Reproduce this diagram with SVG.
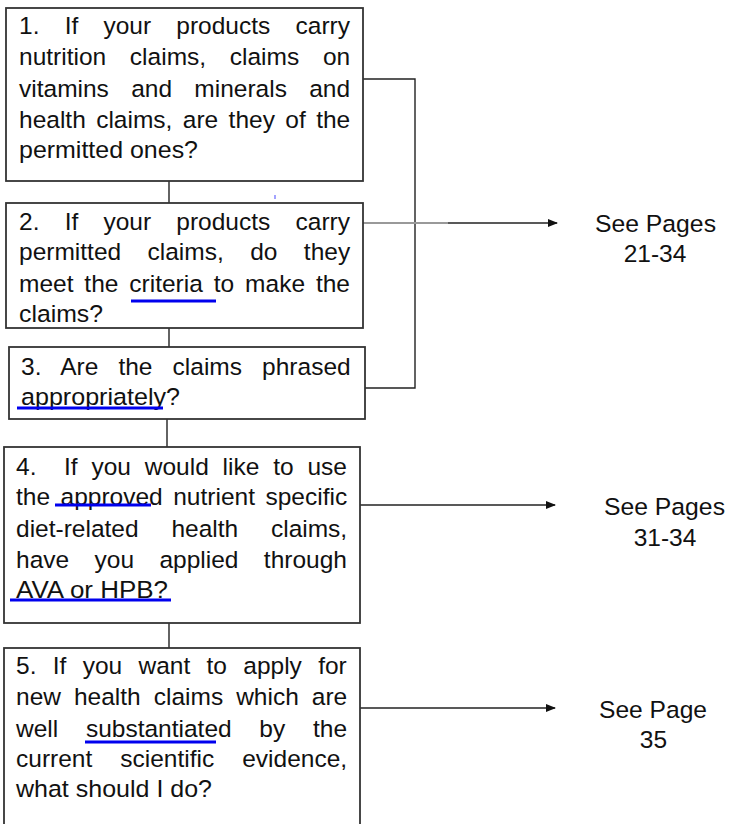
<svg xmlns="http://www.w3.org/2000/svg" width="729" height="824" viewBox="0 0 729 824">
<defs>
<style>
.box{fill:#fff;stroke:#333;stroke-width:1.8}
.t{font-family:"Liberation Sans",Arial,sans-serif;font-size:24.5px;fill:#111}
.c{stroke:#222;stroke-width:1.4;fill:none}
.g{stroke:#999;stroke-width:2;fill:none}
.u{stroke:#0000ee;stroke-width:3}
.r{text-anchor:middle}
</style>
<marker id="ah" markerWidth="10" markerHeight="8" refX="9" refY="4" orient="auto" markerUnits="userSpaceOnUse">
<path d="M0,0 L10,4 L0,8 z" fill="#111"/>
</marker>
</defs>
<rect width="729" height="824" fill="#fff"/>
<g id="connectors">
<line class="c" x1="169" y1="181" x2="169" y2="203"/>
<line class="c" x1="169" y1="328" x2="169" y2="347"/>
<line class="c" x1="167" y1="419" x2="167" y2="447"/>
<line class="c" x1="169" y1="623" x2="169" y2="648"/>
<polyline class="c" points="363,79 415,79 415,388 365,388"/>
<line class="g" x1="363" y1="223" x2="448" y2="223"/>
<line class="c" x1="448" y1="223" x2="557" y2="223" marker-end="url(#ah)"/>
<line class="c" x1="360" y1="505" x2="555" y2="505" marker-end="url(#ah)"/>
<line class="c" x1="360" y1="708" x2="555" y2="708" stroke="#555" stroke-width="1" marker-end="url(#ah)"/>
<line x1="275" y1="195" x2="275" y2="199" stroke="#6666ff" stroke-width="1.2"/>
</g>
<g id="node1">
<rect class="box" x="6" y="8" width="357" height="173"/>
<text class="t" x="19" y="34" word-spacing="18.4">1. If your products carry</text>
<text class="t" x="19" y="65" word-spacing="16.9">nutrition claims, claims on</text>
<text class="t" x="19" y="97" word-spacing="15.5">vitamins and minerals and</text>
<text class="t" x="19" y="128" word-spacing="3.6">health claims, are they of the</text>
<text class="t" x="19" y="158" textLength="179" lengthAdjust="spacingAndGlyphs">permitted ones?</text>
</g>
<g id="node2">
<rect class="box" x="6" y="203" width="357" height="125"/>
<text class="t" x="19" y="230" word-spacing="18.4">2. If your products carry</text>
<text class="t" x="19" y="260" word-spacing="19.6">permitted claims, do they</text>
<text class="t" x="19" y="292" word-spacing="4.1">meet the criteria to make the</text>
<text class="t" x="19" y="322" textLength="84" lengthAdjust="spacingAndGlyphs">claims?</text>
<line class="u" x1="131" y1="301" x2="216" y2="301"/>
</g>
<g id="node3">
<rect class="box" x="9" y="347" width="356" height="72"/>
<text class="t" x="21" y="375" word-spacing="13.3">3. Are the claims phrased</text>
<text class="t" x="21" y="405" textLength="159" lengthAdjust="spacingAndGlyphs">appropriately?</text>
<line class="u" x1="17" y1="408" x2="163" y2="408"/>
</g>
<g id="node4">
<rect class="box" x="4" y="447" width="356" height="176"/>
<text class="t" x="16" y="475" word-spacing="7" xml:space="preserve">4.  If you would like to use</text>
<text class="t" x="16" y="505" word-spacing="3.7">the approved nutrient specific</text>
<text class="t" x="16" y="537" word-spacing="26">diet-related health claims,</text>
<text class="t" x="16" y="568" word-spacing="18.6">have you applied through</text>
<text class="t" x="16" y="598" textLength="152" lengthAdjust="spacingAndGlyphs">AVA or HPB?</text>
<line class="u" x1="55" y1="505" x2="151" y2="505"/>
<line class="u" x1="10" y1="600" x2="171" y2="600"/>
</g>
<g id="node5">
<rect class="box" x="4" y="648" width="356" height="190"/>
<text class="t" x="16" y="674" word-spacing="9.5">5. If you want to apply for</text>
<text class="t" x="16" y="705" word-spacing="6.2">new health claims which are</text>
<text class="t" x="16" y="737" word-spacing="20.9">well substantiated by the</text>
<text class="t" x="16" y="767" word-spacing="21.2">current scientific evidence,</text>
<text class="t" x="16" y="797" textLength="196" lengthAdjust="spacingAndGlyphs">what should I do?</text>
<line class="u" x1="85" y1="742" x2="216" y2="742"/>
</g>
<g id="ref1">
<text class="t r" x="655.5" y="232" textLength="121" lengthAdjust="spacingAndGlyphs">See Pages</text>
<text class="t r" x="655" y="262">21-34</text>
</g>
<g id="ref2">
<text class="t r" x="664.5" y="515" textLength="121" lengthAdjust="spacingAndGlyphs">See Pages</text>
<text class="t r" x="665" y="546">31-34</text>
</g>
<g id="ref3">
<text class="t r" x="653" y="718" textLength="108" lengthAdjust="spacingAndGlyphs">See Page</text>
<text class="t r" x="653.5" y="748">35</text>
</g>
</svg>
